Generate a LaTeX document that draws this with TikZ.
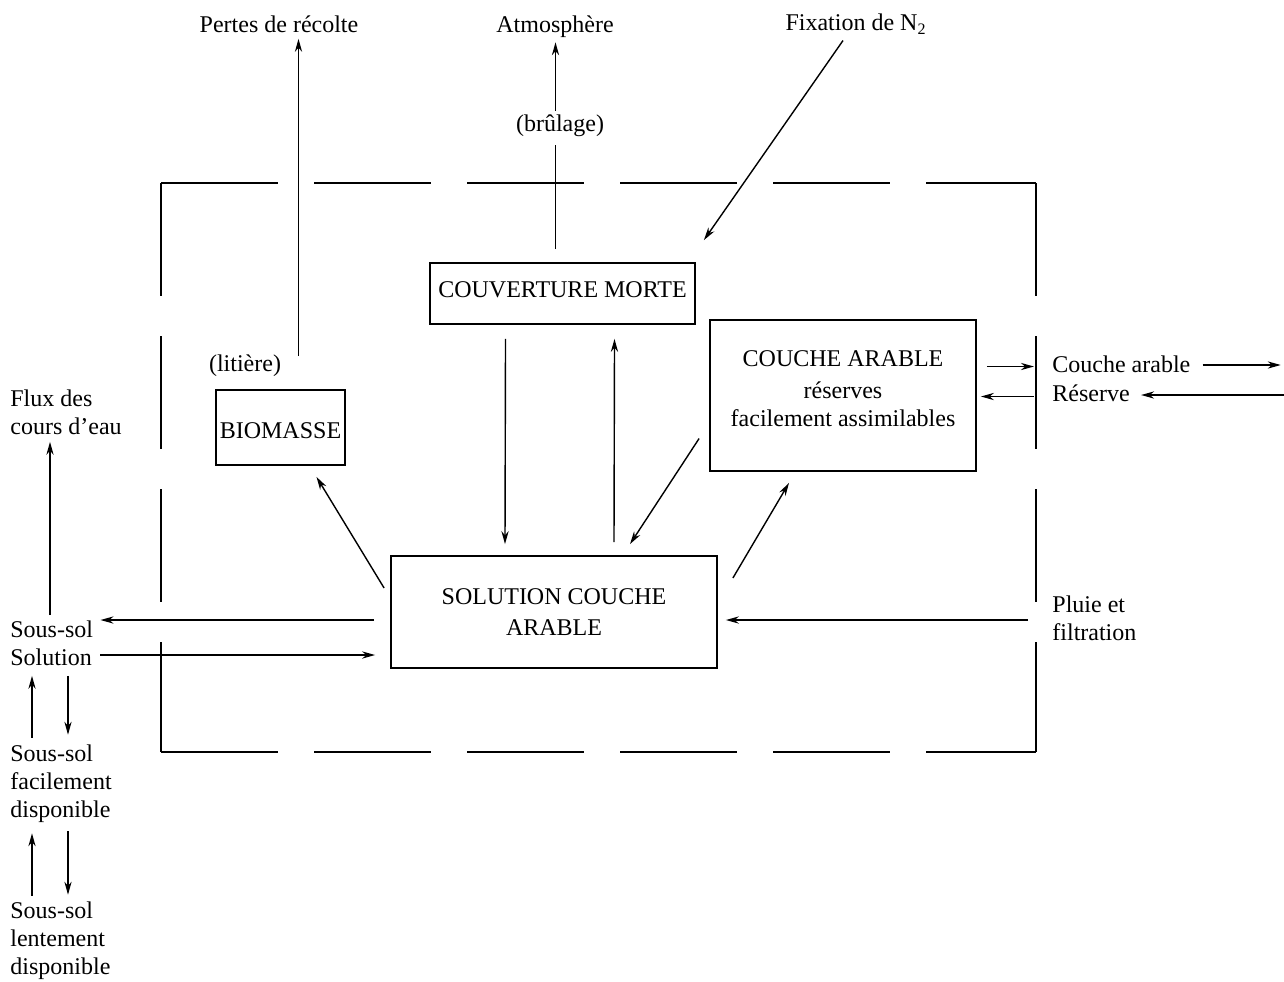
\documentclass[tikz,border=0pt]{standalone}
\usepackage{fontspec}
\setmainfont{Liberation Serif}
\usetikzlibrary{arrows.meta,calc}
\tikzset{
  boite/.style={draw, line width=0.9pt, inner sep=0pt, align=center, font=\fontsize{12}{14}\selectfont},
  etiq/.style={inner sep=0pt, align=left, font=\fontsize{12}{14}\selectfont},
  fleche/.style={-{Stealth[length=6.5pt,width=3.6pt]}, line width=0.7pt},
  trait/.style={line width=0.7pt},
  cadre/.style={line width=0.9pt}
}
\begin{document}
\begin{tikzpicture}[x=0.5pt, y=-0.5pt]
\useasboundingbox (0,0) rectangle (1284,981);
\node[boite, minimum width=132.5pt, minimum height=30.5pt] (couv) at (562.5,293.5) {COUVERTURE MORTE\rule[-4pt]{0pt}{0pt}};
\node[boite, minimum width=64.5pt, minimum height=37.5pt] (biom) at (280.5,427.5) {\rule{0pt}{11.5pt}BIOMASSE};
\node[boite, minimum width=133pt, minimum height=75.5pt] (arable) at (843,395.5) {COUCHE ARABLE\\[2pt]réserves\\facilement assimilables\rule[-7pt]{0pt}{0pt}};
\node[boite, minimum width=163pt, minimum height=56pt] (sol) at (554,612) {SOLUTION COUCHE\\[1.5pt]ARABLE};
\node[etiq] (pertes) at (279,24) {Pertes de récolte};
\node[etiq] (atmos) at (555,27) {Atmosphère};
\node[etiq] (fix) at (856,24) {Fixation de N\textsubscript{2}};
\node[etiq] (brul) at (560,126) {(brûlage)};
\node[etiq] (lit) at (245,366) {(litière)};
\node[etiq, anchor=west] (flux) at (10,412) {Flux des\\cours d’eau};
\node[etiq, anchor=west] (sssol) at (10,643) {Sous-sol\\Solution};
\node[etiq, anchor=west] (ssfac) at (10,784) {Sous-sol\\facilement\\disponible};
\node[etiq, anchor=west] (sslent) at (10,941) {Sous-sol\\lentement\\disponible};
\node[etiq, anchor=west] (ca1) at (1052,364) {Couche arable};
\node[etiq, anchor=west] (ca2) at (1052,393) {Réserve};
\node[etiq, anchor=west] (pluie) at (1052,618) {Pluie et\\filtration};
\draw[cadre, dash pattern=on 58.5pt off 18pt] (161,183) -- (1036,183);
\draw[cadre, dash pattern=on 58.5pt off 18pt] (161,752) -- (1036,752);
\draw[cadre, dash pattern=on 56.5pt off 20pt] (161,183) -- (161,752);
\draw[cadre, dash pattern=on 56.5pt off 20pt] (1036,183) -- (1036,752);
\coordinate (lt) at ($(biom.north)+(18,-33)$);
\draw[fleche] (lt) -- ($(lt |- pertes.south)+(0,6)$);
\coordinate (bt) at ($(couv.north)+(-7,-13)$);
\draw[trait] (bt) -- ($(bt |- brul.south)+(0,8)$);
\draw[fleche] ($(bt |- brul.north)+(0,-4)$) -- ($(bt |- atmos.south)+(0,4)$);
\draw[fleche] ($(fix.south)+(-13,6)$) -- ($(couv.north east)+(8,-22)$);
\draw[fleche] ($(couv.south)+(-57,14)$) -- ($(sol.north)+(-49,-11)$);
\draw[fleche] ($(sol.north)+(60,-13)$) -- ($(couv.south)+(52,14)$);
\draw[fleche] ($(arable.west)+(-10,43)$) -- ($(sol.north)+(76,-11)$);
\draw[fleche] ($(sol.east)+(15,-34)$) -- ($(arable.south)+(-54,11)$);
\draw[fleche] ($(sol.west)+(-6,-24)$) -- ($(biom.south)+(36,11)$);
\draw[fleche] ($(arable.east)+(10,-29)$) coordinate (a1) -- ($(a1)+(47,0)$);
\draw[fleche] ($(arable.east)+(57,1)$) coordinate (a2) -- ($(arable.east)+(4,1)$);
\draw[fleche] ($(ca1.east)+(12,1)$) coordinate (c1) -- ($(c1)+(78,0)$);
\draw[fleche] ($(ca2.east)+(159,2)$) coordinate (c2) -- ($(ca2.east)+(11,2)$);
\draw[fleche] ($(pluie.west)+(-24,2)$) coordinate (p1) -- ($(sol.east |- p1)+(8,0)$);
\draw[fleche] ($(sol.west)+(-16,8)$) coordinate (s1) -- ($(sssol.east |- s1)+(7,0)$);
\draw[fleche] ($(sssol.east)+(7,12)$) coordinate (s2) -- ($(sol.west |- s2)+(-15,0)$);
\draw[fleche] ($(sssol.north west)+(40,-5)$) -- ($(flux.south west)+(40,7)$);
\draw[fleche] ($(ssfac.north west)+(22,-7)$) -- ($(sssol.south west)+(22,10)$);
\draw[fleche] ($(sssol.south west)+(58,10)$) -- ($(ssfac.north west)+(58,-10)$);
\draw[fleche] ($(sslent.north west)+(22,-6)$) -- ($(ssfac.south west)+(22,10)$);
\draw[fleche] ($(ssfac.south west)+(58,8)$) -- ($(sslent.north west)+(58,-7)$);
\end{tikzpicture}
\end{document}
